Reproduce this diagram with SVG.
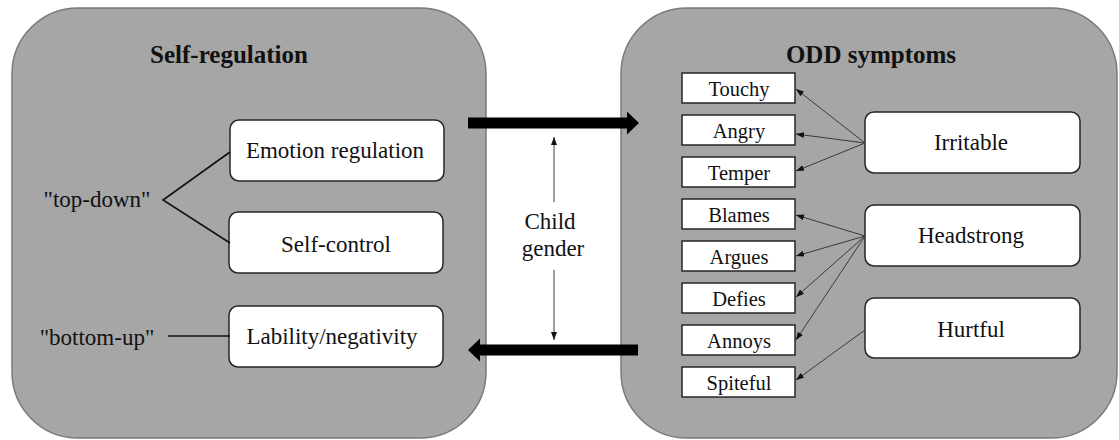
<svg xmlns="http://www.w3.org/2000/svg" width="1119" height="440" viewBox="0 0 1119 440">
<style>
.panel{fill:#a6a6a6;stroke:#7a7a7a;stroke-width:1.5}
.rbox{fill:#fff;stroke:#262626;stroke-width:1.5}
.sbox{fill:#fff;stroke:#262626;stroke-width:1.5}
text{font-family:"Times New Roman",Times,"Liberation Serif",Tinos,"Noto Serif","DejaVu Serif",FreeSerif,serif}
.t{font-size:23px;fill:#111;text-anchor:middle}
.ts{font-size:20.5px;fill:#111;text-anchor:middle}
.title{font-size:25px;font-weight:bold;fill:#111;text-anchor:middle}
.thin{stroke:#3a3a3a;stroke-width:1;fill:none}
.br{stroke:#111;stroke-width:1.6;fill:none}
.big{fill:#000}
</style>
<defs>
<marker id="ah" viewBox="0 0 8 6" refX="8" refY="3" markerWidth="8" markerHeight="6" markerUnits="userSpaceOnUse" orient="auto">
<path d="M0,0 L8,3 L0,6 Z" fill="#111"/>
</marker>
</defs>
<g id="panel-left">
<rect class="panel" x="12" y="8" width="474" height="430" rx="66" ry="66"/>
<text class="title" x="229" y="63">Self-regulation</text>
</g>
<g id="panel-right">
<rect class="panel" x="621" y="8" width="496" height="430" rx="66" ry="66"/>
<text class="title" x="871" y="63">ODD symptoms</text>
</g>
<g id="node-emotion">
<rect class="rbox" x="230" y="120" width="214" height="61" rx="9"/>
<text class="t" x="335" y="158">Emotion regulation</text>
</g>
<g id="node-selfcontrol">
<rect class="rbox" x="229" y="212" width="214" height="61" rx="9"/>
<text class="t" x="336" y="252">Self-control</text>
</g>
<g id="node-lability">
<rect class="rbox" x="229" y="306" width="214" height="61" rx="9"/>
<text class="t" x="332" y="344">Lability/negativity</text>
</g>
<g id="label-topdown">
<text class="t" x="97" y="207">"top-down"</text>
</g>
<g id="label-bottomup">
<text class="t" x="97" y="345">"bottom-up"</text>
</g>
<g id="label-gender">
<text class="t" x="550" y="229">Child</text>
<text class="t" x="553" y="256">gender</text>
</g>
<g id="node-touchy"><rect class="sbox" x="682" y="73" width="113" height="30"/><text class="ts" x="739" y="96">Touchy</text></g>
<g id="node-angry"><rect class="sbox" x="682" y="115" width="113" height="30"/><text class="ts" x="739" y="138">Angry</text></g>
<g id="node-temper"><rect class="sbox" x="682" y="157" width="113" height="30"/><text class="ts" x="739" y="180">Temper</text></g>
<g id="node-blames"><rect class="sbox" x="682" y="199" width="113" height="30"/><text class="ts" x="739" y="222">Blames</text></g>
<g id="node-argues"><rect class="sbox" x="682" y="241" width="113" height="30"/><text class="ts" x="739" y="264">Argues</text></g>
<g id="node-defies"><rect class="sbox" x="682" y="283" width="113" height="30"/><text class="ts" x="739" y="306">Defies</text></g>
<g id="node-annoys"><rect class="sbox" x="682" y="325" width="113" height="30"/><text class="ts" x="739" y="348">Annoys</text></g>
<g id="node-spiteful"><rect class="sbox" x="682" y="367" width="113" height="30"/><text class="ts" x="739" y="390">Spiteful</text></g>
<g id="node-irritable"><rect class="rbox" x="865" y="112" width="215" height="61" rx="9"/><text class="t" x="971" y="150">Irritable</text></g>
<g id="node-headstrong"><rect class="rbox" x="865" y="205" width="215" height="61" rx="9"/><text class="t" x="971" y="243">Headstrong</text></g>
<g id="node-hurtful"><rect class="rbox" x="865" y="298" width="215" height="60" rx="9"/><text class="t" x="971" y="337">Hurtful</text></g>
<g id="connectors">
<polyline class="br" points="230,152 163,200 230,243"/>
<line class="br" x1="168" y1="336" x2="230" y2="336"/>
<polygon class="big" points="468,117.5 627,117.5 627,111.5 639,123 627,134.5 627,128.5 468,128.5"/>
<polygon class="big" points="638,344.5 480,344.5 480,338.5 468,350 480,361.5 480,355.5 638,355.5"/>
<line class="thin" x1="554" y1="202" x2="554" y2="137" marker-end="url(#ah)"/>
<line class="thin" x1="554" y1="270" x2="554" y2="340" marker-end="url(#ah)"/>
<line class="thin" x1="865" y1="143" x2="796" y2="89" marker-end="url(#ah)"/>
<line class="thin" x1="865" y1="143" x2="796" y2="134" marker-end="url(#ah)"/>
<line class="thin" x1="865" y1="143" x2="796" y2="171" marker-end="url(#ah)"/>
<line class="thin" x1="865" y1="236" x2="796" y2="215" marker-end="url(#ah)"/>
<line class="thin" x1="865" y1="236" x2="796" y2="256" marker-end="url(#ah)"/>
<line class="thin" x1="865" y1="236" x2="796" y2="297" marker-end="url(#ah)"/>
<line class="thin" x1="865" y1="236" x2="796" y2="340" marker-end="url(#ah)"/>
<line class="thin" x1="865" y1="330" x2="796" y2="380" marker-end="url(#ah)"/>
</g>
</svg>
